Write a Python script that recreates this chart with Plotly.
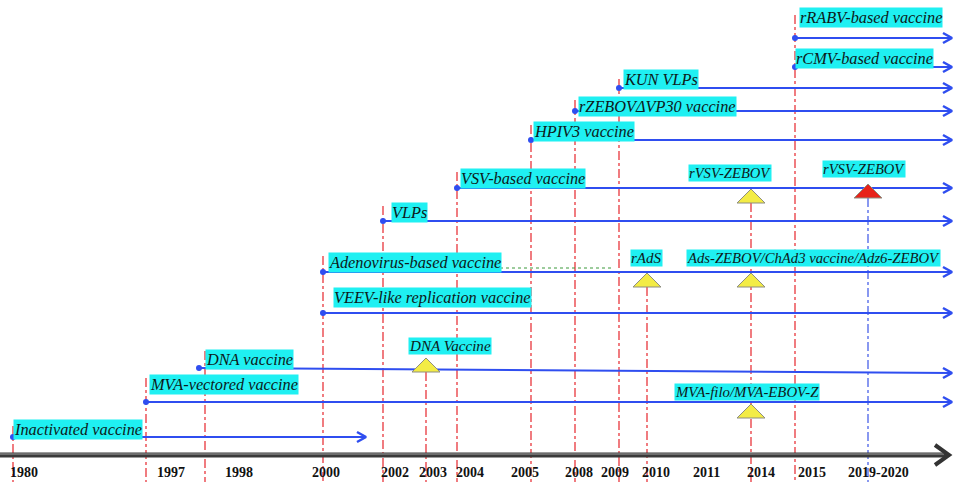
import plotly.graph_objects as go

# ---------------- data ----------------
year_labels = ["1980", "1997", "1998", "2000", "2002", "2003", "2004", "2005",
               "2008", "2009", "2010", "2011", "2014", "2015", "2019-2020"]

series_names = ["Inactivated vaccine", "MVA-vectored vaccine", "DNA vaccine",
                "VEEV-like replication vaccine", "Adenovirus-based vaccine", "VLPs",
                "VSV-based vaccine", "HPIV3 vaccine", "rZEBOVΔVP30 vaccine", "KUN VLPs",
                "rCMV-based vaccine", "rRABV-based vaccine"]
series_start = ["1980", "1997", "1998", "2000", "2000", "2002", "2004", "2005",
                "2008", "2009", "2015", "2015"]
series_ongoing = [False, True, True, True, True, True, True, True, True, True, True, True]

ms_names = ["DNA Vaccine", "MVA-filo/MVA-EBOV-Z", "rAdS",
            "Ads-ZEBOV/ChAd3 vaccine/Adz6-ZEBOV", "rVSV-ZEBOV", "rVSV-ZEBOV"]
ms_year = ["2003", "2014", "2010", "2014", "2014", "2019-2020"]
ms_series = ["DNA vaccine", "MVA-vectored vaccine", "Adenovirus-based vaccine",
             "Adenovirus-based vaccine", "VSV-based vaccine", "VSV-based vaccine"]
ms_kind = ["past", "past", "past", "past", "past", "current"]

# ---------------- layout (scale / positions / styles) ----------------
W, H = 953, 482
year_line_x = [13, 146, 205, 323, 383, 426, 457, 531, 575, 619, 647, None, 751, 795, 868]
year_label_x = [24, 171, 239, 326, 395, 433, 470, 525, 579, 615, 656, 706, 761, 812, 878]
lane_y = [437, 402, 368, 313, 272, 221, 188, 140, 111, 88, 67, 38]
lane_end_dy = [0, 0, 5, 0, 0, 0, 0, 0, 0, 0, 0, 0]
start_dx = [0, 0, -6, 0, 0, 0, 0, 0, 0, 0, 0, 0]
inactivated_end_x = 366
label_dx = [0, 3, 0, 10, 5, 8, 3, 2, 3, 4, 0, 4]
label_top_dy = [-18, -28, -19, -26, -20, -19, -20, -19, -15, -19, -19, -31]
line_top_dy = [7, 4, 2, 4, 4, 4, 4, 4, 4, 10, 8, 8]
ms_base_dy = [4, 16, 15, 15, 15, 10]
ms_label_left = [408, 674, 630, 686, 688, 822]
ms_label_top = [337, 383, 249, 249, 164, 160]
ms_font_size = [15.1, 14.8, 15, 14.7, 14.6, 14.6]
axis_y = 455
right_x = 952

BLUE = "#2f4ef0"
RED_DASH = "#e8363c"
CYAN = "#1ff0f2"
TXT = "#0d1a1a"
FONT = "Liberation Serif"
FS = 16.3

xmap = {y: x for y, x in zip(year_labels, year_line_x)}
lane = dict(zip(series_names, lane_y))

fig = go.Figure()

# vertical dash-dot year lines
tops = {}
for nm, st, ly, dy, ty in zip(series_names, series_start, lane_y, label_top_dy, line_top_dy):
    tops[st] = min(tops.get(st, 1e9), ly + dy + ty)
for yr, sr, bd in zip(ms_year, ms_series, ms_base_dy):
    tops[yr] = min(tops.get(yr, 1e9), lane[sr] + bd)
for yr in year_labels:
    x = xmap[yr]
    if x is None or yr not in tops:
        continue
    col = "#4a62e8" if yr == "2019-2020" else RED_DASH
    fig.add_trace(go.Scatter(x=[x, x], y=[tops[yr], H], mode="lines",
                             line=dict(color=col, width=1.3, dash="dashdot"),
                             hoverinfo="skip", showlegend=False))

# green spell-check underline
fig.add_trace(go.Scatter(x=[452, 612], y=[268, 268], mode="lines",
                         line=dict(color="#3c9a3c", width=1.2, dash="dot"),
                         hoverinfo="skip", showlegend=False))

# series arrows
for nm, st, ly, edy, sdx, ongoing in zip(series_names, series_start, lane_y, lane_end_dy,
                                          start_dx, series_ongoing):
    x0 = xmap[st] + sdx
    x1 = right_x if ongoing else inactivated_end_x
    y1 = ly + edy
    fig.add_trace(go.Scatter(x=[x0, x1], y=[ly, y1], mode="lines",
                             line=dict(color=BLUE, width=2),
                             hoverinfo="skip", showlegend=False))
    fig.add_trace(go.Scatter(x=[x1 - 9, x1, x1 - 9], y=[y1 - 5, y1, y1 + 5], mode="lines",
                             line=dict(color=BLUE, width=2.5),
                             hoverinfo="skip", showlegend=False))
    fig.add_trace(go.Scatter(x=[x0], y=[ly], mode="markers",
                             marker=dict(color=BLUE, size=6),
                             hoverinfo="skip", showlegend=False))

# milestone triangles
for yr, sr, bd, kind in zip(ms_year, ms_series, ms_base_dy, ms_kind):
    cx = xmap[yr]
    base = lane[sr] + bd
    fill = "#f3ec45" if kind == "past" else "#e8231a"
    fig.add_trace(go.Scatter(x=[cx - 14, cx + 14, cx, cx - 14],
                             y=[base, base, base - 14, base],
                             mode="lines", fill="toself", fillcolor=fill,
                             line=dict(color="#8e8e80", width=1),
                             hoverinfo="skip", showlegend=False))

# main time axis
fig.add_trace(go.Scatter(x=[0, 946], y=[axis_y, axis_y], mode="lines",
                         line=dict(color="#3a3a3a", width=5),
                         hoverinfo="skip", showlegend=False))
fig.add_trace(go.Scatter(x=[0, 944], y=[axis_y - 1, axis_y - 1], mode="lines",
                         line=dict(color="#a0a0a0", width=1.2),
                         hoverinfo="skip", showlegend=False))
fig.add_trace(go.Scatter(x=[935, 949, 935], y=[axis_y - 10, axis_y, axis_y + 10], mode="lines",
                         line=dict(color="#333333", width=4),
                         hoverinfo="skip", showlegend=False))

annotations = []
for yr, lx in zip(year_labels, year_label_x):
    annotations.append(dict(x=lx, y=472, text="<b>%s</b>" % yr, showarrow=False,
                            xanchor="center", yanchor="middle",
                            font=dict(family=FONT, size=14, color="#111111")))
for nm, st, ly, dx, dy in zip(series_names, series_start, lane_y, label_dx, label_top_dy):
    annotations.append(dict(x=xmap[st] + dx, y=ly + dy, text="<i>%s</i>" % nm, showarrow=False,
                            xanchor="left", yanchor="top", bgcolor=CYAN, borderpad=0,
                            font=dict(family=FONT, size=FS, color=TXT)))
for nm, lx, ty, fs in zip(ms_names, ms_label_left, ms_label_top, ms_font_size):
    annotations.append(dict(x=lx, y=ty, text="<i>%s</i>" % nm, showarrow=False,
                            xanchor="left", yanchor="top", bgcolor=CYAN, borderpad=0,
                            font=dict(family=FONT, size=fs, color=TXT)))

fig.update_layout(
    width=W, height=H,
    margin=dict(l=0, r=0, t=0, b=0),
    paper_bgcolor="white", plot_bgcolor="white",
    xaxis=dict(range=[0, W], visible=False, fixedrange=True),
    yaxis=dict(range=[H, 0], visible=False, fixedrange=True),
    annotations=annotations,
    showlegend=False,
)

fig.write_html("out.html", config={"displayModeBar": False},
               post_script="document.body.style.margin='0px';document.body.style.overflow='hidden';")
